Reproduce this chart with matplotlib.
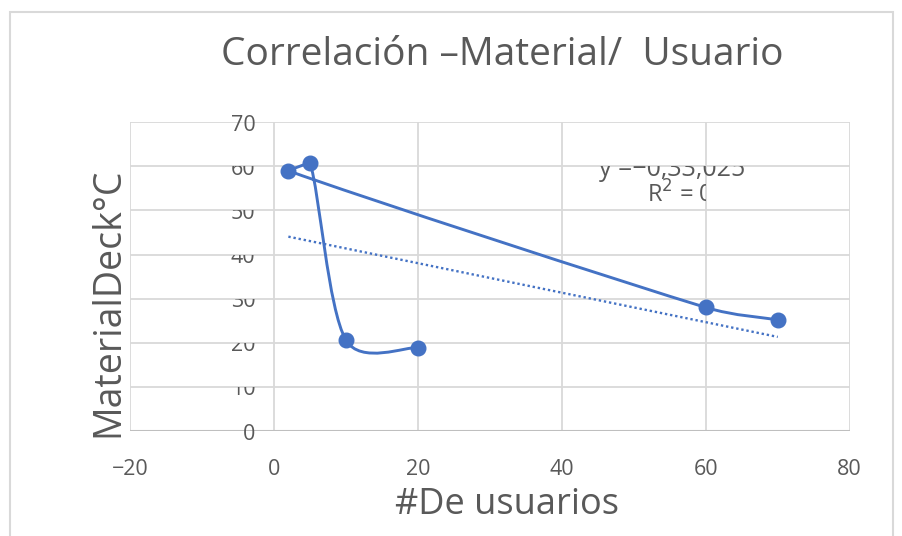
import numpy as np
import matplotlib.pyplot as plt
from matplotlib.path import Path
from matplotlib.patches import PathPatch, Rectangle
from matplotlib.transforms import Bbox, TransformedBbox

# Data (series order as plotted by the smoothed line)
usuarios = [70, 60, 2, 5, 10, 20]
material = [25.2, 28.0, 59.0, 60.8, 20.6, 18.9]
x_ticks = [-20, 0, 20, 40, 60, 80]
y_ticks = [0, 10, 20, 30, 40, 50, 60, 70]
eq_text = "y =\u22120,33,025"
r2_text = "R$^2$ = 0,33"

BLUE = "#4472C4"
GRID = "#d9d9d9"
TXT = "#595959"
FONT = ["Open Sans", "DejaVu Sans"]

fig = plt.figure(figsize=(9.03, 5.36), dpi=100)
fig.patches.append(Rectangle((0.011, -0.01), 0.978, 0.988, transform=fig.transFigure,
                             fill=False, edgecolor=GRID, linewidth=1.5))
ax = fig.add_axes([0.144, 0.196, 0.797, 0.576])
ax.set_xlim(-20, 80)
ax.set_ylim(0, 70)


def data_clip(x0, y0, x1, y1):
    return TransformedBbox(Bbox([[x0, y0], [x1, y1]]), ax.transData)


# grid and frame
for xv in x_ticks:
    ax.axvline(xv, color=GRID, linewidth=1.3, zorder=0)
for yv in y_ticks:
    ax.axhline(yv, color=GRID, linewidth=1.3, zorder=0)
ax.axhline(0, color="#bfbfbf", linewidth=1.5, zorder=0)
for s in ax.spines.values():
    s.set_visible(False)
ax.set_xticks(x_ticks)
ax.set_xticklabels([f"\u2212{abs(v)}" if v < 0 else str(v) for v in x_ticks],
                   family=FONT, fontsize=15.5, color=TXT)
ax.set_yticks([])
ax.tick_params(axis="x", length=0, pad=20)

# y tick labels sit beside the x=0 line, top partly hidden by their gridline
for yv in y_ticks:
    t = ax.text(-2.6, yv - 0.7, str(yv), ha="right", va="center",
                family=FONT, fontsize=15.5, color=TXT, zorder=1)
    if 0 < yv < 70:
        t.set_clip_box(data_clip(-20, yv - 10, 80, yv))
        t.set_clip_on(True)

# smoothed line through the points (Excel-style bezier), built in display space
pts = ax.transData.transform(np.column_stack([usuarios, material]))
n = len(pts)
tang = [(pts[min(i + 1, n - 1)] - pts[max(i - 1, 0)]) / 6 for i in range(n)]
verts = [pts[0]]
codes = [Path.MOVETO]
for i in range(n - 1):
    chord = pts[i + 1] - pts[i]
    seg = np.hypot(*chord)
    c = []
    for k, sgn in ((i, 1), (i + 1, -1)):
        d = tang[k] * sgn
        ln = np.hypot(*d)
        if ln > seg / 2.5:
            d = d * (seg / 2.5) / ln
        if np.dot(d, chord * sgn) < 0:  # tangent folds back: keep it tiny
            d = d * 0.05
        c.append(d)
    verts += [pts[i] + c[0], pts[i + 1] + c[1], pts[i + 1]]
    codes += [Path.CURVE4] * 3
verts = ax.transData.inverted().transform(np.array(verts))
ax.add_patch(PathPatch(Path(verts, codes), facecolor="none", edgecolor=BLUE,
                       linewidth=2.1, zorder=3))
ax.plot(usuarios, material, "o", color=BLUE, markersize=10.5, zorder=4)

# linear trendline
slope, icpt = np.polyfit(usuarios, material, 1)
tx = np.array([min(usuarios), max(usuarios)])
ax.plot(tx, slope * tx + icpt, linestyle=(0, (1, 1.2)), color=BLUE, linewidth=1.7, zorder=2)

# trendline label, clipped like in the reference
t1 = ax.text(45.2, 57.9, eq_text, ha="left", va="baseline", family=FONT,
             fontsize=18, color=TXT, zorder=1)
t1.set_clip_box(data_clip(-20, 0, 80, 60))
t1.set_clip_on(True)
t2 = ax.text(51.8, 51.7, r2_text, ha="left", va="baseline", family=FONT,
             fontsize=17, color=TXT, zorder=1)
t2.set_clip_box(data_clip(-20, 0, 60, 70))
t2.set_clip_on(True)

fig.text(0.556, 0.897, "Correlación \u2013Material/  Usuario", ha="center", va="center",
         family=FONT, fontsize=28, color=TXT)
fig.text(0.561, 0.058, "#De usuarios", ha="center", va="center",
         family=FONT, fontsize=26, color=TXT)
fig.text(0.12, 0.436, "MaterialDeck°C", ha="center", va="center", rotation=90,
         family=FONT, fontsize=27, color=TXT)

fig.savefig("out.png", dpi=100)
